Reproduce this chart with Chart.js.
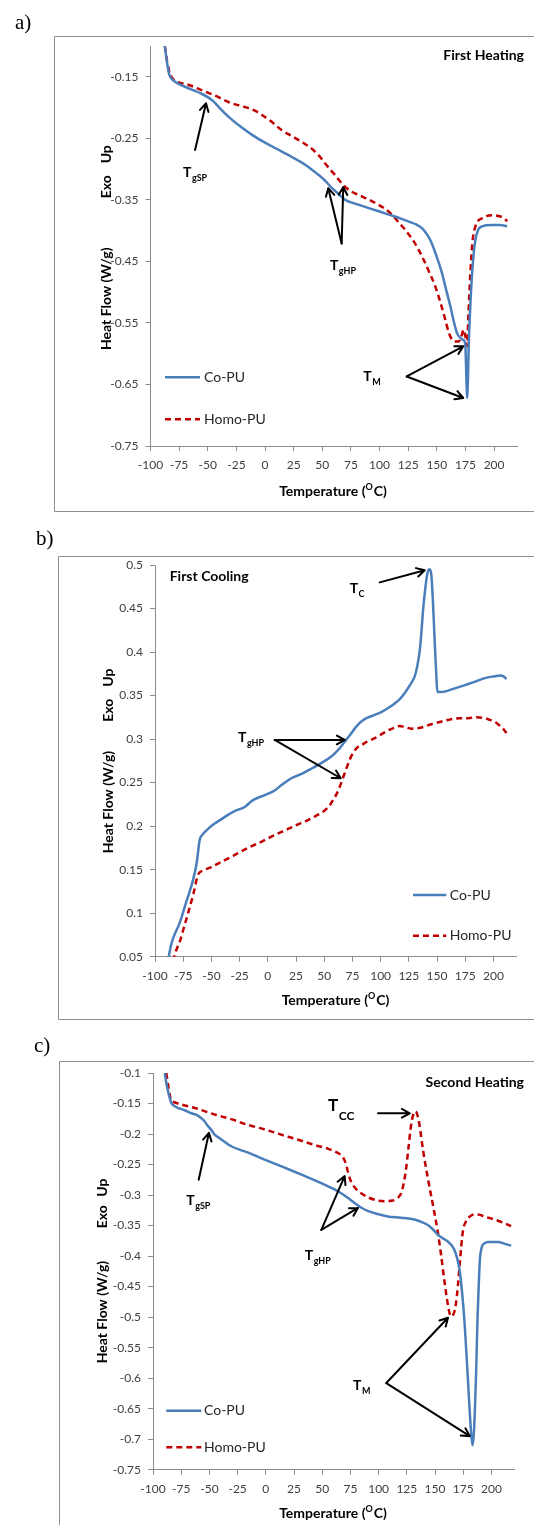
<!DOCTYPE html>
<html><head><meta charset="utf-8">
<script src="https://cdn.jsdelivr.net/npm/chart.js@4.4.1/dist/chart.umd.min.js"></script>
<style>
html,body{margin:0;padding:0;background:#fff;overflow:hidden;}
body{width:534px;height:1525px;position:relative;}
canvas{position:absolute;left:0;}
</style></head><body>
<canvas id="ca" width="534" height="514" style="top:0px"></canvas>
<canvas id="cb" width="534" height="508" style="top:514px"></canvas>
<canvas id="cc" width="534" height="503" style="top:1022px"></canvas>
<script>
// ---------------- DATA ----------------
const seriesNames = ['Co-PU', 'Homo-PU'];
const xTickValues = [-100,-75,-50,-25,0,25,50,75,100,125,150,175,200];
const yTickValuesA = [-0.75,-0.65,-0.55,-0.45,-0.35,-0.25,-0.15];
const yTickValuesB = [0.05,0.1,0.15,0.2,0.25,0.3,0.35,0.4,0.45,0.5];
const yTickValuesC = [-0.75,-0.7,-0.65,-0.6,-0.55,-0.5,-0.45,-0.4,-0.35,-0.3,-0.25,-0.2,-0.15,-0.1];

// a) First heating
const heat1CoT = [-87.5,-85.5,-83.5,-80,-75,-65,-55,-50,-45,-40,-30,-20,-10,0,10,23,35,45,52,58,64,70,80,90,100,108,118,125,132,137,141,145,150,154.5,158,161.8,165,167.7,171,173.4,174.9,175.8,176.4,177.2,177.8,179.3,180.8,182.3,183.7,186,189.5,198.3,205,211.4];
const heat1CoQ = [-0.100,-0.128,-0.147,-0.156,-0.162,-0.170,-0.178,-0.183,-0.190,-0.200,-0.218,-0.233,-0.246,-0.257,-0.267,-0.280,-0.293,-0.307,-0.318,-0.330,-0.340,-0.350,-0.357,-0.363,-0.369,-0.374,-0.380,-0.385,-0.390,-0.396,-0.405,-0.418,-0.443,-0.469,-0.495,-0.523,-0.549,-0.567,-0.575,-0.578,-0.586,-0.640,-0.672,-0.640,-0.590,-0.520,-0.469,-0.435,-0.415,-0.399,-0.393,-0.391,-0.391,-0.393];
const heat1HomoT = [-87.5,-85.5,-83,-80,-77,-67,-60,-52.4,-42,-32,-22,-14.5,-8,-2.8,5,14.7,24,32.2,38,43.8,48,52.5,57,61.3,66,70,75,81.6,90,99.1,105,110.8,116,122.5,130,137.1,143,148.7,153,157.4,160.5,163.3,166,169.1,171.5,173.4,175,176.4,177.5,179.3,181,183.7,189.5,198.3,205.5,209,211.4];
const heat1HomoQ = [-0.100,-0.125,-0.145,-0.154,-0.158,-0.163,-0.168,-0.174,-0.182,-0.191,-0.197,-0.201,-0.206,-0.212,-0.222,-0.237,-0.247,-0.256,-0.263,-0.272,-0.280,-0.291,-0.301,-0.310,-0.321,-0.329,-0.336,-0.342,-0.349,-0.358,-0.365,-0.374,-0.385,-0.399,-0.418,-0.442,-0.466,-0.491,-0.516,-0.545,-0.566,-0.577,-0.580,-0.580,-0.572,-0.561,-0.572,-0.588,-0.540,-0.469,-0.420,-0.393,-0.380,-0.375,-0.377,-0.380,-0.385];

// b) First cooling
const cool1CoT = [-88.5,-86,-84,-81.5,-79.6,-76.5,-73.7,-70,-66.3,-63,-60.4,-58,-56,-52,-47.1,-41,-35.3,-28,-20.5,-15,-11.6,-2,6.1,13,20.8,30,38.6,48,56.3,62,68.2,73,77,81,85.9,93,100.6,107,112.5,117,121.4,126,130.2,132.5,134.7,136.3,137.6,139.5,141.4,143.5,145,146.3,148,149.3,150.3,153.8,165,174.6,184,192.3,200,205.6,209,211.5];
const cool1CoQ = [0.045,0.062,0.071,0.079,0.084,0.095,0.107,0.122,0.138,0.158,0.184,0.190,0.193,0.198,0.203,0.208,0.213,0.218,0.222,0.228,0.231,0.236,0.241,0.248,0.255,0.260,0.266,0.273,0.280,0.287,0.297,0.305,0.312,0.318,0.323,0.327,0.331,0.336,0.341,0.346,0.353,0.362,0.372,0.384,0.402,0.425,0.448,0.472,0.490,0.495,0.488,0.460,0.410,0.375,0.354,0.354,0.358,0.362,0.366,0.370,0.372,0.373,0.372,0.369];
const cool1HomoT = [-84,-81,-78.1,-74.5,-70.7,-66,-61.9,-57.4,-50,-44.1,-35,-26.4,-16,-5.8,5,15,25,35.6,43,50.4,55,57.8,61,63.7,66.5,69.6,72.5,75.5,79,82.9,88,94.8,100,106.6,112,116.9,121,127.2,135,145,159.7,170,177.5,185,192.3,197,201.1,205,208.5,211.5];
const cool1HomoQ = [0.045,0.058,0.067,0.083,0.100,0.122,0.144,0.149,0.153,0.157,0.163,0.169,0.176,0.182,0.189,0.195,0.201,0.207,0.212,0.218,0.224,0.230,0.237,0.245,0.255,0.266,0.276,0.284,0.290,0.293,0.297,0.301,0.305,0.310,0.313,0.315,0.314,0.312,0.313,0.317,0.322,0.324,0.324,0.325,0.324,0.322,0.320,0.316,0.312,0.307];

// c) Second heating
const heat2CoT = [-89.6,-88,-86.7,-85,-83.8,-81,-77.9,-72,-66.1,-61,-57.2,-54,-51.3,-48,-45.4,-40,-30.6,-15,-1.1,14,28.4,40,52.1,60,66.8,73,78.7,84,90.4,99,108.1,120,131.8,138,143.6,148,152.4,157,161.3,164.5,167.2,169.5,171.7,174,176.2,178,180,181.8,183.2,184.6,186.5,187.7,188.8,189.8,191.5,194,197,205.6,212,217.5];
const heat2CoQ = [-0.100,-0.118,-0.130,-0.142,-0.149,-0.154,-0.157,-0.161,-0.166,-0.169,-0.174,-0.180,-0.187,-0.194,-0.201,-0.208,-0.220,-0.231,-0.242,-0.253,-0.264,-0.273,-0.283,-0.290,-0.297,-0.305,-0.313,-0.320,-0.326,-0.331,-0.335,-0.337,-0.340,-0.344,-0.349,-0.356,-0.365,-0.371,-0.376,-0.382,-0.390,-0.403,-0.422,-0.460,-0.510,-0.565,-0.630,-0.685,-0.710,-0.685,-0.585,-0.500,-0.445,-0.405,-0.385,-0.379,-0.377,-0.377,-0.380,-0.383];
const heat2HomoT = [-88.2,-87,-86.1,-85,-83.8,-81,-77.9,-60,-45.4,-30,-15.9,0,13.6,28,43.2,55,63.9,67.5,69.8,71.3,72.7,74.5,77.1,80.5,84.5,91,99.3,106,112.6,116.5,120,122.3,124.4,126.5,128.8,130.7,132.8,134.6,136.2,139.5,143.6,148,152.4,155.5,158.4,160.8,162.8,164.8,166.8,168.5,170.3,171.8,173.2,174.8,177.5,181,184.5,188,195,202.7,210,217.4];
const heat2HomoQ = [-0.100,-0.115,-0.125,-0.137,-0.145,-0.148,-0.150,-0.159,-0.168,-0.176,-0.185,-0.193,-0.201,-0.209,-0.218,-0.224,-0.231,-0.236,-0.243,-0.251,-0.261,-0.273,-0.283,-0.291,-0.297,-0.304,-0.309,-0.310,-0.309,-0.305,-0.297,-0.280,-0.256,-0.222,-0.185,-0.168,-0.163,-0.170,-0.185,-0.228,-0.272,-0.315,-0.360,-0.400,-0.442,-0.473,-0.493,-0.499,-0.493,-0.478,-0.448,-0.415,-0.385,-0.358,-0.343,-0.335,-0.332,-0.332,-0.336,-0.340,-0.345,-0.351];

// ---------------- STYLE / LAYOUT ----------------
const BLUE = '#4A7EBB', RED = '#C00000', AXIS = '#8c8c8c', TICK = '#404040';
const FONT = 'Lato, "Open Sans", sans-serif';

const panels = {
  ca: {
    canvasTop: 0, canvasH: 514,
    area: {left:150.5, right:517, top:46, bottom:446},
    yMin: -0.75, yMax: -0.1, yTicks: yTickValuesA,
    series: [[heat1CoT, heat1CoQ], [heat1HomoT, heat1HomoQ]],
    frame: {left:54.5, top:36.5, bottom:511.5},
    letter: {text:'a)', x:15, y:29},
    ytitle: {x:106.6, parts:[['Heat Flow (W/g)', 350], ['Exo', 198.3], ['Up', 163.3]]},
    xtitle: {x:333, y:491},
    title: {text:'First Heating', x:524, y:55, align:'right'},
    legend: {x0:165, x1:200, tx:204, ys:[377.3, 419.3]},
    labels: [
      {t:-71.6, v:-0.313, sub:'gSP'},
      {t:56.7, v:-0.464, sub:'gHP'},
      {t:85.8, v:-0.645, sub:'M'}
    ],
    arrows: [
      [-61.1,-0.269,-51.5,-0.193],
      [66.9,-0.421,55.2,-0.331],
      [66.9,-0.421,68.3,-0.329],
      [123.7,-0.637,173.1,-0.588],
      [123.7,-0.637,173.1,-0.672]
    ]
  },
  cb: {
    canvasTop: 514, canvasH: 508,
    area: {left:155, right:516, top:565, bottom:956.7},
    yMin: 0.05, yMax: 0.5, yTicks: yTickValuesB,
    series: [[cool1CoT, cool1CoQ], [cool1HomoT, cool1HomoQ]],
    frame: {left:58.5, top:556.5, bottom:1019.5},
    letter: {text:'b)', x:36, y:545},
    ytitle: {x:108.3, parts:[['Heat Flow (W/g)', 853.3], ['Exo', 721.7], ['Up', 686.7]]},
    xtitle: {x:335.5, y:1000},
    title: {text:'First Cooling', x:169.7, y:576, align:'left'},
    legend: {x0:413, x1:446.3, tx:449.7, ys:[895, 935.7]},
    labels: [
      {t:72.6, v:0.4675, sub:'C'},
      {t:-26.4, v:0.297, sub:'gHP'}
    ],
    arrows: [
      [99.2,0.480,139.1,0.494],
      [6.1,0.299,68.2,0.299],
      [6.1,0.299,64.6,0.255]
    ]
  },
  cc: {
    canvasTop: 1022, canvasH: 503,
    area: {left:153, right:514, top:1073, bottom:1469.7},
    yMin: -0.75, yMax: -0.1, yTicks: yTickValuesC,
    series: [[heat2CoT, heat2CoQ], [heat2HomoT, heat2HomoQ]],
    frame: {left:59.5, top:1061.5, bottom:null},
    letter: {text:'c)', x:34, y:1052},
    ytitle: {x:102.5, parts:[['Heat Flow (W/g)', 1363.3], ['Exo', 1228.3], ['Up', 1196.7]]},
    xtitle: {x:333, y:1513},
    title: {text:'Second Heating', x:524, y:1082, align:'right'},
    legend: {x0:166.3, x1:201.3, tx:204, ys:[1410.7, 1447.3]},
    labels: [
      {t:-70.5, v:-0.316, sub:'gSP'},
      {t:34.5, v:-0.406, sub:'gHP'},
      {t:55.1, v:-0.162, sub:'CC', big:true},
      {t:77.3, v:-0.619, sub:'M'}
    ],
    arrows: [
      [-59.5,-0.275,-50.4,-0.198],
      [49.2,-0.357,69.9,-0.269],
      [49.2,-0.357,81.7,-0.321],
      [99.5,-0.166,127.6,-0.166],
      [106.8,-0.608,161.5,-0.501],
      [106.8,-0.608,180.8,-0.695]
    ]
  }
};

const seriesStyle = [
  {color: BLUE, dash: []},
  {color: RED, dash: [6,4]}
];

function drawArrow(ctx, x1, y1, x2, y2) {
  const a = Math.atan2(y2 - y1, x2 - x1), L = 9, sp = 0.5;
  ctx.beginPath();
  ctx.moveTo(x1, y1); ctx.lineTo(x2, y2);
  ctx.moveTo(x2 - L*Math.cos(a - sp), y2 - L*Math.sin(a - sp));
  ctx.lineTo(x2, y2);
  ctx.lineTo(x2 - L*Math.cos(a + sp), y2 - L*Math.sin(a + sp));
  ctx.stroke();
}

const decor = {
  id: 'decor',
  afterDraw(chart) {
    const p = panels[chart.canvas.id];
    if (!p) return;
    const ctx = chart.ctx;
    const xs = chart.scales.x, ys = chart.scales.y;
    const off = p.canvasTop;
    ctx.save();
    // frame
    ctx.strokeStyle = '#8e8e8e'; ctx.lineWidth = 1; ctx.setLineDash([]);
    ctx.beginPath();
    ctx.moveTo(540, p.frame.top - off);
    ctx.lineTo(p.frame.left, p.frame.top - off);
    if (p.frame.bottom !== null) {
      ctx.lineTo(p.frame.left, p.frame.bottom - off);
      ctx.lineTo(540, p.frame.bottom - off);
    } else {
      ctx.lineTo(p.frame.left, p.canvasH + 2);
    }
    ctx.stroke();
    // panel letter
    ctx.fillStyle = '#000';
    ctx.font = '21px "Liberation Serif", "Times New Roman", serif';
    ctx.textAlign = 'left'; ctx.textBaseline = 'alphabetic';
    ctx.fillText(p.letter.text, p.letter.x, p.letter.y - off);
    // y title
    ctx.save();
    ctx.translate(p.ytitle.x, 0);
    ctx.rotate(-Math.PI/2);
    ctx.font = 'bold 14px ' + FONT;
    ctx.textBaseline = 'middle'; ctx.textAlign = 'left';
    ctx.fillStyle = '#000';
    for (const [txt, yStart] of p.ytitle.parts) ctx.fillText(txt, -(yStart - off), 0);
    ctx.restore();
    // x title with superscript O
    {
      const y = p.xtitle.y - off;
      ctx.textBaseline = 'middle'; ctx.textAlign = 'left';
      ctx.font = 'bold 14px ' + FONT;
      const s1 = 'Temperature (', s3 = 'C)', s2 = 'O';
      const w1 = ctx.measureText(s1).width, w3 = ctx.measureText(s3).width;
      ctx.font = 'bold 9px ' + FONT;
      const w2 = ctx.measureText(s2).width;
      let x = p.xtitle.x - (w1 + w2 + w3 + 1) / 2;
      ctx.font = 'bold 14px ' + FONT;
      ctx.fillText(s1, x, y);
      ctx.font = 'bold 9px ' + FONT;
      ctx.fillText(s2, x + w1, y - 4);
      ctx.font = 'bold 14px ' + FONT;
      ctx.fillText(s3, x + w1 + w2 + 1, y);
    }
    // panel title
    ctx.font = 'bold 14px ' + FONT;
    ctx.textAlign = p.title.align; ctx.textBaseline = 'middle';
    ctx.fillText(p.title.text, p.title.x, p.title.y - off);
    // legend
    ctx.textAlign = 'left'; ctx.textBaseline = 'middle';
    ctx.font = '14px ' + FONT;
    seriesNames.forEach((name, i) => {
      const y = p.legend.ys[i] - off;
      ctx.strokeStyle = seriesStyle[i].color; ctx.lineWidth = 2.5;
      ctx.setLineDash(seriesStyle[i].dash);
      ctx.beginPath(); ctx.moveTo(p.legend.x0, y); ctx.lineTo(p.legend.x1, y); ctx.stroke();
      ctx.setLineDash([]);
      ctx.fillStyle = '#262626';
      ctx.fillText(name, p.legend.tx, y);
    });
    // arrows
    ctx.strokeStyle = '#000'; ctx.lineWidth = 2; ctx.lineCap = 'round'; ctx.lineJoin = 'round';
    for (const [t1, v1, t2, v2] of p.arrows) {
      drawArrow(ctx, xs.getPixelForValue(t1), ys.getPixelForValue(v1), xs.getPixelForValue(t2), ys.getPixelForValue(v2));
    }
    // T labels
    ctx.fillStyle = '#000'; ctx.textAlign = 'left'; ctx.textBaseline = 'alphabetic';
    for (const lb of p.labels) {
      const x = xs.getPixelForValue(lb.t), y = ys.getPixelForValue(lb.v);
      const ms = lb.big ? 17 : 14, ss = lb.big ? 12 : 9, dy = lb.big ? 9 : 4;
      ctx.font = 'bold ' + ms + 'px ' + FONT;
      ctx.fillText('T', x, y);
      const w = ctx.measureText('T').width;
      ctx.font = 'bold ' + ss + 'px ' + FONT;
      ctx.fillText(lb.sub, x + w + 0.5, y + dy);
    }
    ctx.restore();
  }
};
Chart.register(decor);

function makePanel(id) {
  const p = panels[id];
  const X_H = 40;
  const datasets = p.series.map(([T, Q], i) => ({
    label: seriesNames[i],
    data: T.map((t, k) => ({x: t, y: Q[k]})),
    borderColor: seriesStyle[i].color,
    backgroundColor: seriesStyle[i].color,
    borderWidth: 2.5,
    borderDash: seriesStyle[i].dash,
    pointRadius: 0,
    fill: false,
    cubicInterpolationMode: 'monotone'
  }));
  new Chart(document.getElementById(id), {
    type: 'line',
    data: {datasets},
    options: {
      responsive: false, animation: false, devicePixelRatio: 1,
      layout: {padding: {
        left: 0,
        right: 534 - p.area.right,
        top: p.area.top - p.canvasTop,
        bottom: p.canvasTop + p.canvasH - p.area.bottom - X_H
      }},
      plugins: {legend: {display: false}, title: {display: false}, tooltip: {enabled: false}},
      scales: {
        x: {
          type: 'linear', min: -100, max: 220,
          afterBuildTicks: s => { s.ticks = xTickValues.map(v => ({value: v})); },
          afterFit: s => { s.height = X_H; },
          grid: {drawOnChartArea: false, drawTicks: true, tickLength: 5, color: AXIS},
          border: {display: true, color: AXIS, width: 1},
          ticks: {font: {family: FONT, size: 12}, color: TICK, padding: 7, maxRotation: 0, autoSkip: false,
                  callback: v => String(v)}
        },
        y: {
          type: 'linear', min: p.yMin, max: p.yMax,
          afterBuildTicks: s => { s.ticks = p.yTicks.map(v => ({value: v})); },
          afterFit: s => { s.width = p.area.left; },
          grid: {drawOnChartArea: false, drawTicks: true, tickLength: 5, color: AXIS},
          border: {display: true, color: AXIS, width: 1},
          ticks: {font: {family: FONT, size: 12}, color: TICK, padding: 7, autoSkip: false,
                  callback: v => String(+Number(v).toFixed(2))}
        }
      }
    }
  });
}
makePanel('ca');
makePanel('cb');
makePanel('cc');
</script>
</body></html>
